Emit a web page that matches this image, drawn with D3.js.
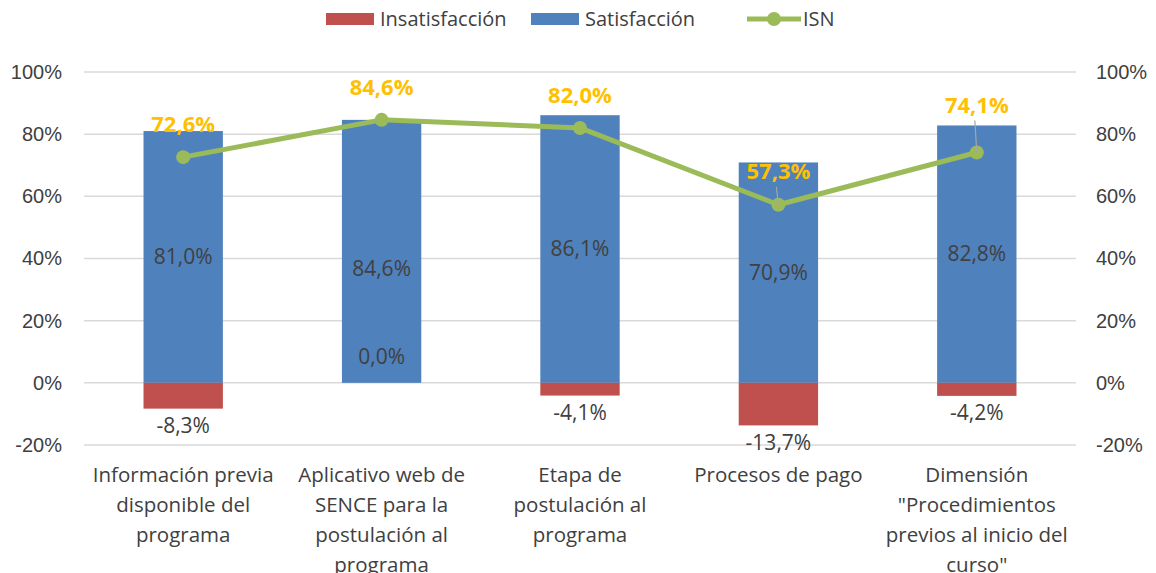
<!DOCTYPE html>
<html>
<head>
<meta charset="utf-8">
<script src="https://cdn.jsdelivr.net/npm/d3@7"></script>
<style>
  body { margin: 0; background: #fff; }
  svg { font-family: 'Open Sans', sans-serif; }
</style>
</head>
<body>
<div class="chart"></div>
<script>
const red = '#C0504D'
const blue = '#4F81BD'
const green = '#9BBB59'
const gold = '#FFC000'
const textColor = '#404040'

// data
const categories = [
  ['Información previa', 'disponible del', 'programa'],
  ['Aplicativo web de', 'SENCE para la', 'postulación al', 'programa'],
  ['Etapa de', 'postulación al', 'programa'],
  ['Procesos de pago'],
  ['Dimensión', '"Procedimientos', 'previos al inicio del', 'curso"']
]
const satisfaccion = [81.0, 84.6, 86.1, 70.9, 82.8]
const insatisfaccion = [-8.3, 0.0, -4.1, -13.7, -4.2]
const isn = [72.6, 84.6, 82.0, 57.3, 74.1]
const yTicks = [-20, 0, 20, 40, 60, 80, 100]

const width = 1156
const height = 573
const margin = { left: 84, right: 80, top: 72, bottom: 128 }

const svg = d3.select('.chart').append('svg')
  .attr('width', width).attr('height', height)

const x = d3.scaleBand()
  .domain(d3.range(categories.length))
  .range([margin.left, width - margin.right])
  .paddingInner(0.6).paddingOuter(0.3)

const y = d3.scaleLinear().domain([-20, 100]).range([height - margin.bottom, margin.top])

const fmt = v => v.toFixed(1).replace('.', ',') + '%'

// grid
svg.append('g').selectAll('line')
  .data(yTicks)
  .enter().append('line')
  .attr('x1', margin.left).attr('x2', width - margin.right)
  .attr('y1', d => y(d)).attr('y2', d => y(d))
  .attr('stroke', '#D9D9D9').attr('stroke-width', 1.5)

// left and right axes, no domain line
const leftAxis = svg.append('g')
  .attr('transform', `translate(${margin.left} 0)`)
  .call(d3.axisLeft(y).tickValues(yTicks).tickFormat(d => d + '%').tickSize(0).tickPadding(22))
const rightAxis = svg.append('g')
  .attr('transform', `translate(${width - margin.right} 0)`)
  .call(d3.axisRight(y).tickValues(yTicks).tickFormat(d => d + '%').tickSize(0).tickPadding(20))
;[leftAxis, rightAxis].forEach(a => {
  a.select('.domain').remove()
  a.selectAll('text').attr('font-size', 20).attr('fill', textColor).attr('font-family', null)
})

// bars
svg.append('g').selectAll('rect')
  .data(satisfaccion)
  .enter().append('rect')
  .attr('x', (d, i) => x(i)).attr('width', x.bandwidth())
  .attr('y', d => y(d)).attr('height', d => y(0) - y(d))
  .attr('fill', blue)

svg.append('g').selectAll('rect')
  .data(insatisfaccion)
  .enter().append('rect')
  .attr('x', (d, i) => x(i)).attr('width', x.bandwidth())
  .attr('y', y(0)).attr('height', d => y(d) - y(0))
  .attr('fill', red)

const cx = i => x(i) + x.bandwidth() / 2

// satisfaction labels, centered in bar (second one sits lower in the original)
svg.append('g').selectAll('text')
  .data(satisfaccion)
  .enter().append('text')
  .attr('x', (d, i) => cx(i))
  .attr('y', (d, i) => (y(d) + y(0)) / 2 + (i === 1 ? 17 : 0))
  .attr('dy', '0.35em')
  .attr('text-anchor', 'middle')
  .attr('font-size', 21).attr('fill', textColor)
  .text(fmt)

// insatisfaction labels, below bar (zero value sits above the axis)
svg.append('g').selectAll('text')
  .data(insatisfaccion)
  .enter().append('text')
  .attr('x', (d, i) => cx(i))
  .attr('y', d => d === 0 ? y(0) - 26 : y(d) + 17)
  .attr('dy', '0.35em')
  .attr('text-anchor', 'middle')
  .attr('font-size', 21).attr('fill', textColor)
  .text(fmt)

// ISN line
const line = d3.line().x((d, i) => cx(i)).y(d => y(d))
svg.append('path')
  .datum(isn)
  .attr('d', line)
  .attr('fill', 'none').attr('stroke', green).attr('stroke-width', 5)
  .attr('stroke-linejoin', 'round')

svg.append('g').selectAll('circle')
  .data(isn)
  .enter().append('circle')
  .attr('cx', (d, i) => cx(i)).attr('cy', d => y(d))
  .attr('r', 7).attr('fill', green)

// ISN labels with leader lines where Excel moved them
const labelOffset = i => i === 4 ? 47 : 33
svg.append('g').selectAll('line')
  .data(isn)
  .enter().filter((d, i) => i >= 3).append('line')
  .attr('x1', (d, i) => cx(i + 3) - 2).attr('x2', (d, i) => cx(i + 3))
  .attr('y1', (d, i) => y(d) - labelOffset(i + 3) + 15).attr('y2', d => y(d))
  .attr('stroke', '#A6A6A6').attr('stroke-width', 1.2)

svg.append('g').selectAll('text')
  .data(isn)
  .enter().append('text')
  .attr('x', (d, i) => cx(i))
  .attr('y', (d, i) => y(d) - labelOffset(i))
  .attr('dy', '0.35em')
  .attr('text-anchor', 'middle')
  .attr('font-size', 22).attr('font-weight', 'bold').attr('fill', gold)
  .text(fmt)

// category labels
const catG = svg.append('g').selectAll('text')
  .data(categories)
  .enter().append('text')
  .attr('x', (d, i) => cx(i))
  .attr('y', 475)
  .attr('text-anchor', 'middle')
  .attr('font-size', 20.5).attr('fill', textColor)
catG.selectAll('tspan')
  .data(d => d)
  .enter().append('tspan')
  .attr('x', function () { return this.parentNode.getAttribute('x') })
  .attr('dy', (d, i) => i === 0 ? '0.35em' : 30)
  .text(d => d)

// legend
const legendItems = [
  { name: 'Insatisfacción', color: red, kind: 'rect', x: 326 },
  { name: 'Satisfacción', color: blue, kind: 'rect', x: 531 },
  { name: 'ISN', color: green, kind: 'line', x: 747 }
]
const legend = svg.append('g').selectAll('g')
  .data(legendItems)
  .enter().append('g')
  .attr('transform', d => `translate(${d.x} 19)`)
legend.filter(d => d.kind === 'rect').append('rect')
  .attr('x', 0).attr('y', -6).attr('width', 48).attr('height', 12)
  .attr('fill', d => d.color)
legend.filter(d => d.kind === 'line').append('line')
  .attr('x1', 0).attr('x2', 54).attr('stroke', d => d.color).attr('stroke-width', 5)
legend.filter(d => d.kind === 'line').append('circle')
  .attr('cx', 27).attr('r', 7).attr('fill', d => d.color)
legend.append('text')
  .attr('x', d => d.kind === 'line' ? 56 : 54)
  .attr('dy', '0.35em')
  .attr('font-size', 20).attr('fill', textColor)
  .text(d => d.name)
</script>
</body>
</html>
